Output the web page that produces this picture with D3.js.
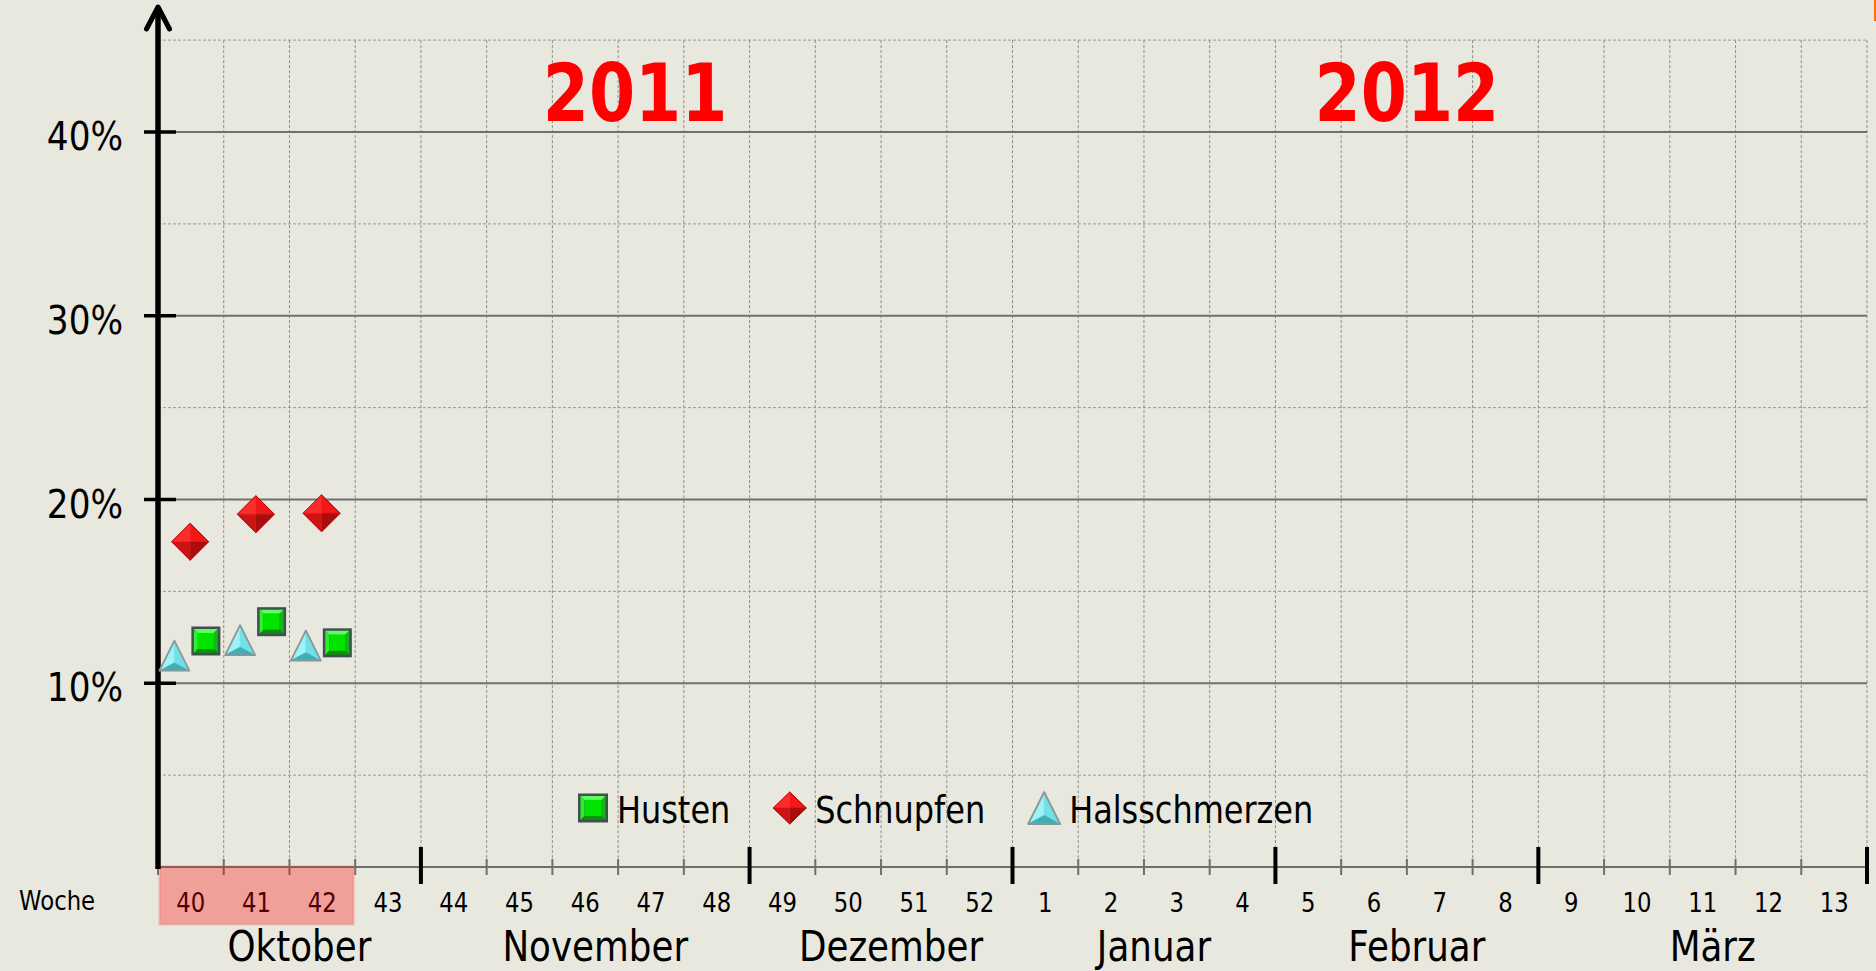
<!DOCTYPE html>
<html>
<head>
<meta charset="utf-8">
<script src="https://cdn.jsdelivr.net/npm/d3@7"></script>
<style>
  body { margin: 0; background: #e9e8de; overflow: hidden; }
  text { font-family: "DejaVu Sans", sans-serif; }
</style>
</head>
<body>
<div id="main"></div>
<script>
const W = 1876;
const H = 971;

// calendar weeks shown on the x axis (autumn 2011 .. spring 2012)
const weeks = ["40", "41", "42", "43", "44", "45", "46", "47", "48", "49", "50", "51", "52",
    "1", "2", "3", "4", "5", "6", "7", "8", "9", "10", "11", "12", "13"];
const months = ["Oktober", "November", "Dezember", "Januar", "Februar", "März"];
const monthWeekCount = [4, 5, 4, 4, 4, 5];
const years = ["2011", "2012"];
const yearWeek = ["47", "7"];
const highlightWeeks = ["40", "41", "42"];
const yTicks = [10, 20, 30, 40];

// measured weeks (percent of reports)
const dataWeeks = ["40", "41", "42"];
const husten = [12.3, 13.35, 12.2];
const schnupfen = [17.7, 19.2, 19.25];
const halsschmerzen = [11.5, 12.35, 12.05];

const seriesNames = ["Husten", "Schnupfen", "Halsschmerzen"];

var ctx = {
    left: 158,
    right: 1867,
    top: 40,
    axisY: 867,
    sx: 0.86,
};

var addText = function (g, x, y, str, size, opts) {
    opts = opts || {};
    return g.append("text")
        .attr("transform", "translate(" + x + "," + y + ") scale(" + (opts.sx || ctx.sx) + ",1)")
        .attr("text-anchor", opts.anchor || "middle")
        .style("font-size", size + "px")
        .style("font-weight", opts.weight || "normal")
        .style("fill", opts.fill || "#000")
        .text(str);
};

// ---- bevelled marker shapes, centred on 0,0 ----
var drawSquare = function (g, w, h) {
    let x0 = -w / 2, y0 = -h / 2, b = 2.5, e = 4;
    g.append("rect").attr("x", x0).attr("y", y0).attr("width", w).attr("height", h)
        .style("fill", "#3f5050");
    let ix0 = x0 + b, iy0 = y0 + b, ix1 = -x0 - b, iy1 = -y0 - b;
    let faces = [
        [[ix0, iy0], [ix1, iy0], [ix1 - e, iy0 + e], [ix0 + e, iy0 + e], "#5dff5d"],
        [[ix0, iy0], [ix0 + e, iy0 + e], [ix0 + e, iy1 - e], [ix0, iy1], "#2cf02c"],
        [[ix1, iy0], [ix1, iy1], [ix1 - e, iy1 - e], [ix1 - e, iy0 + e], "#12b812"],
        [[ix0, iy1], [ix0 + e, iy1 - e], [ix1 - e, iy1 - e], [ix1, iy1], "#0b900b"],
    ];
    faces.forEach(function (f) {
        g.append("path").attr("d", "M" + f.slice(0, 4).join("L") + "Z").style("fill", f[4]);
    });
    g.append("rect").attr("x", ix0 + e).attr("y", iy0 + e)
        .attr("width", ix1 - ix0 - 2 * e).attr("height", iy1 - iy0 - 2 * e)
        .style("fill", "#00e400");
};

var drawDiamond = function (g, w, h) {
    let t = [0, -h / 2], r = [w / 2, 0], b = [0, h / 2], l = [-w / 2, 0], c = [0, 0];
    let faces = [[l, t, c, "#ff2b2b"], [t, r, c, "#f21818"], [r, b, c, "#a90d0d"], [b, l, c, "#cc1414"]];
    faces.forEach(function (f) {
        g.append("path").attr("d", "M" + f.slice(0, 3).join("L") + "Z").style("fill", f[3])
            .style("stroke", f[3]).style("stroke-width", 0.5);
    });
    g.append("path").attr("d", "M" + [t, r, b, l].join("L") + "Z")
        .style("fill", "none").style("stroke", "#b00000").style("stroke-width", 1);
};

var drawTriangle = function (g, w, h) {
    let a = [0, -h / 2], bl = [-w / 2, h / 2], br = [w / 2, h / 2], c = [0, h / 6 + 2];
    let faces = [[a, bl, c, "#9cf2f6"], [a, br, c, "#72e0e7"], [bl, br, c, "#40aeb6"]];
    faces.forEach(function (f) {
        g.append("path").attr("d", "M" + f.slice(0, 3).join("L") + "Z").style("fill", f[3])
            .style("stroke", f[3]).style("stroke-width", 0.5);
    });
    g.append("path").attr("d", "M" + [a, bl, br].join("L") + "Z")
        .style("fill", "none").style("stroke", "#8a9797").style("stroke-width", 1.8)
        .style("stroke-linejoin", "round");
};

var markerFns = {
    Husten: function (g) { drawSquare(g, 29, 29); },
    Schnupfen: function (g) { drawDiamond(g, 37, 37); },
    Halsschmerzen: function (g) { drawTriangle(g, 30, 30); },
};
var legendFns = {
    Husten: function (g) { drawSquare(g, 30, 29); },
    Schnupfen: function (g) { drawDiamond(g, 33, 32); },
    Halsschmerzen: function (g) { drawTriangle(g, 32, 32); },
};

var makeChart = function (svg) {
    let x = d3.scaleBand().domain(weeks).range([ctx.left, ctx.right]).padding(0);
    let y = d3.scaleLinear().domain([0, 45]).range([ctx.axisY, ctx.axisY - 45 * 18.375]);
    let bw = x.bandwidth();

    svg.append("rect").attr("width", W).attr("height", H).style("fill", "#e9e8de");
    svg.append("rect").attr("x", 1874).attr("y", 0).attr("width", 2).attr("height", 21)
        .style("fill", "#ff7000");

    // grid
    let grid = svg.append("g").attr("id", "grid");
    grid.selectAll("line.vgrid")
        .data(weeks)
        .enter()
        .append("line")
        .attr("class", "vgrid")
        .attr("x1", (d) => x(d) + bw).attr("x2", (d) => x(d) + bw)
        .attr("y1", y(45)).attr("y2", ctx.axisY)
        .style("stroke", "#8c8c8c").style("stroke-width", 1)
        .style("stroke-dasharray", "3,2");
    let gridVals = d3.range(5, 46, 5);
    grid.selectAll("line.hgrid")
        .data(gridVals.filter((v) => v % 10 !== 0))
        .enter()
        .append("line")
        .attr("class", "hgrid")
        .attr("x1", ctx.left).attr("x2", ctx.right)
        .attr("y1", (d) => y(d)).attr("y2", (d) => y(d))
        .style("stroke", "#999").style("stroke-width", 1)
        .style("stroke-dasharray", "3,2");
    grid.selectAll("line.hsolid")
        .data(yTicks)
        .enter()
        .append("line")
        .attr("class", "hsolid")
        .attr("x1", ctx.left).attr("x2", ctx.right)
        .attr("y1", (d) => y(d)).attr("y2", (d) => y(d))
        .style("stroke", "#6f6f6f").style("stroke-width", 2);

    // x axis
    let xa = svg.append("g").attr("id", "xaxis");
    xa.append("line").attr("x1", ctx.left).attr("x2", ctx.right)
        .attr("y1", ctx.axisY).attr("y2", ctx.axisY)
        .style("stroke", "#6f6f6f").style("stroke-width", 2);
    xa.selectAll("line.wtick")
        .data(weeks)
        .enter()
        .append("line")
        .attr("class", "wtick")
        .attr("x1", (d) => x(d)).attr("x2", (d) => x(d))
        .attr("y1", ctx.axisY - 8).attr("y2", ctx.axisY + 8)
        .style("stroke", "#6f6f6f").style("stroke-width", 2);
    let ends = d3.cumsum(monthWeekCount);
    xa.selectAll("line.mtick")
        .data(ends)
        .enter()
        .append("line")
        .attr("class", "mtick")
        .attr("x1", (d) => x(weeks[d - 1]) + bw).attr("x2", (d) => x(weeks[d - 1]) + bw)
        .attr("y1", ctx.axisY - 20).attr("y2", ctx.axisY + 17)
        .style("stroke", "#000").style("stroke-width", 4);

    weeks.forEach(function (wk) {
        addText(xa, x(wk) + bw / 2, 912, wk, 26.5);
    });
    addText(xa, 19, 910, "Woche", 26.5, { anchor: "start" });
    months.forEach(function (m, i) {
        let start = x(weeks[ends[i] - monthWeekCount[i]]);
        let end = x(weeks[ends[i] - 1]) + bw;
        addText(xa, (start + end) / 2 + 10, 961, m, 42, { sx: 0.85 });
    });

    // highlighted weeks box
    let hx0 = x(highlightWeeks[0]);
    let hx1 = x(highlightWeeks[highlightWeeks.length - 1]) + bw;
    svg.append("rect")
        .attr("x", hx0 + 1.5).attr("y", ctx.axisY - 0.5)
        .attr("width", hx1 - hx0 - 3).attr("height", 58)
        .style("fill", "rgba(255,0,0,0.31)")
        .style("stroke", "rgba(255,80,60,0.16)").style("stroke-width", 3);

    // y axis with arrow
    let ya = svg.append("g").attr("id", "yaxis");
    ya.selectAll("line.ytick")
        .data(yTicks)
        .enter()
        .append("line")
        .attr("x1", ctx.left - 14).attr("x2", ctx.left + 18)
        .attr("y1", (d) => y(d)).attr("y2", (d) => y(d))
        .style("stroke", "#000").style("stroke-width", 3.5);
    ya.append("line").attr("x1", ctx.left).attr("x2", ctx.left)
        .attr("y1", ctx.axisY + 2).attr("y2", 8)
        .style("stroke", "#000").style("stroke-width", 5.5);
    ya.append("path")
        .attr("d", "M" + (ctx.left - 11.5) + ",29L" + ctx.left + ",7L" + (ctx.left + 11.5) + ",29")
        .style("fill", "none").style("stroke", "#000").style("stroke-width", 5)
        .style("stroke-linecap", "round").style("stroke-linejoin", "round");
    yTicks.forEach(function (v) {
        addText(ya, 123, y(v) + 18, v + "%", 38.5, { anchor: "end", sx: 0.89 });
    });

    // year captions
    years.forEach(function (yr, i) {
        let xx = x(yearWeek[i]) + (i === 0 ? 17 : 0);
        addText(svg, xx, 121, yr, 81, { weight: "bold", fill: "#ff0000", sx: 0.82 });
    });

    // data markers
    let offset = d3.scalePoint().domain(["Halsschmerzen", "Schnupfen", "Husten"]).range([-16.5, 15]);
    let series = { Husten: husten, Schnupfen: schnupfen, Halsschmerzen: halsschmerzen };
    let pts = svg.append("g").attr("id", "points");
    ["Halsschmerzen", "Husten", "Schnupfen"].forEach(function (name) {
        series[name].forEach(function (v, i) {
            let g = pts.append("g")
                .attr("transform", "translate(" + (x(dataWeeks[i]) + bw / 2 + offset(name)) + "," + y(v) + ")");
            markerFns[name](g);
        });
    });

    // legend
    let lg = svg.append("g").attr("id", "legend");
    let lx = 578;
    seriesNames.forEach(function (name) {
        let mw = name === "Husten" ? 30 : (name === "Schnupfen" ? 33 : 32);
        let mg = lg.append("g").attr("transform", "translate(" + (lx + mw / 2) + ",808)");
        legendFns[name](mg);
        let t = addText(lg, lx + mw + 9, 823, name, 36.5, { anchor: "start", sx: 0.875 });
        lx += mw + 9 + t.node().getComputedTextLength() * 0.875 + 43;
    });
};

var createViz = function () {
    let svg = d3.select("#main").append("svg")
        .attr("width", W)
        .attr("height", H);
    makeChart(svg);
};

createViz();
</script>
</body>
</html>
